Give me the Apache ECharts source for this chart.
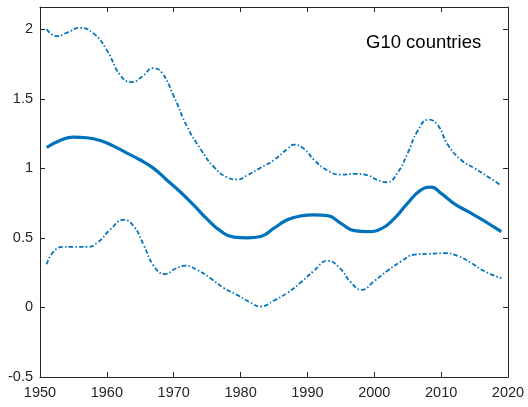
<!DOCTYPE html>
<html>
<head>
<meta charset="utf-8">
<script src="https://cdn.jsdelivr.net/npm/echarts@6/dist/echarts.min.js"></script>
<style>
html,body{margin:0;padding:0;background:#fff;}
#chart{width:528px;height:407px;}
</style>
</head>
<body>
<div id="chart"></div>
<script>
var titleText = "G10 countries";
var xTicks = [1950, 1960, 1970, 1980, 1990, 2000, 2010, 2020];
var yTicks = [-0.5, 0, 0.5, 1, 1.5, 2];

var upperYears = [1951, 1952.5, 1954, 1956, 1958, 1960, 1962, 1963.7, 1965.3, 1966.9, 1968.2, 1970, 1972, 1974, 1976, 1978, 1979.5, 1981, 1983, 1985, 1987, 1988, 1989.5, 1991, 1993, 1995, 1997, 1999, 2000.5, 2001.9, 2003.5, 2005, 2006.5, 2008.1, 2009.5, 2011, 2013, 2015, 2017, 2019];
var upperVals  = [2.0, 1.95, 1.975, 2.01, 1.97, 1.85, 1.67, 1.62, 1.66, 1.72, 1.69, 1.52, 1.30, 1.14, 1.01, 0.935, 0.92, 0.95, 1.005, 1.06, 1.14, 1.17, 1.14, 1.06, 0.985, 0.955, 0.96, 0.95, 0.915, 0.90, 0.97, 1.11, 1.27, 1.35, 1.31, 1.17, 1.06, 1.00, 0.94, 0.875];

var centralYears = [1951, 1953, 1955, 1957, 1959, 1961, 1963, 1965, 1967, 1969, 1971, 1973, 1975, 1977, 1979, 1981, 1983, 1985, 1987, 1989, 1991, 1993, 1995, 1997, 1999, 2001, 2003, 2005, 2007, 2008.5, 2010, 2012, 2014, 2016, 2018, 2019];
var centralVals  = [1.15, 1.20, 1.225, 1.22, 1.20, 1.16, 1.11, 1.06, 1.00, 0.915, 0.83, 0.735, 0.635, 0.55, 0.505, 0.50, 0.51, 0.57, 0.63, 0.658, 0.665, 0.66, 0.605, 0.552, 0.545, 0.565, 0.64, 0.75, 0.845, 0.865, 0.82, 0.745, 0.69, 0.635, 0.575, 0.545];

var lowerYears = [1951, 1952, 1953.5, 1955, 1957, 1958.7, 1960.5, 1962.5, 1964, 1965.5, 1967, 1968.7, 1970.3, 1971.7, 1973.5, 1975.5, 1977.5, 1979.5, 1981.3, 1983, 1985, 1987, 1989, 1991, 1993, 1994.8, 1996.5, 1998.1, 2000, 2002, 2004, 2006, 2008, 2010.5, 2012.5, 2014.5, 2016.5, 2019];
var lowerVals  = [0.31, 0.40, 0.435, 0.435, 0.435, 0.47, 0.56, 0.63, 0.585, 0.45, 0.30, 0.24, 0.28, 0.30, 0.27, 0.21, 0.14, 0.09, 0.04, 0.007, 0.05, 0.105, 0.18, 0.265, 0.335, 0.285, 0.18, 0.127, 0.19, 0.265, 0.33, 0.38, 0.385, 0.39, 0.37, 0.32, 0.26, 0.21];

function pairs(xs, ys){ return xs.map(function(x,i){ return [x, ys[i]]; }); }

var lineColor = '#0072BD';
var axisColor = '#262626';
var fontFam = '"Liberation Sans", Arial, Helvetica, sans-serif';

var chart = echarts.init(document.getElementById('chart'), null, {renderer:'canvas'});

function xAx(pos, showLabel){
  return {
    type:'value', position:pos, min:xTicks[0], max:xTicks[xTicks.length-1], interval:10,
    axisLine:{show:true, onZero:false, lineStyle:{color:axisColor, width:1}},
    axisTick:{show:true, inside:true, length:5, lineStyle:{color:axisColor}},
    axisLabel:{show:showLabel, color:axisColor, fontSize:14.5, fontFamily:fontFam, margin:8,
      formatter:function(v){ return String(Math.round(v)); }},
    splitLine:{show:false}
  };
}
function yAx(pos, showLabel){
  return {
    type:'value', position:pos, min:yTicks[0], max:2.16, interval:0.5,
    axisLine:{show:true, onZero:false, lineStyle:{color:axisColor, width:1}},
    axisTick:{show:true, inside:true, length:5, lineStyle:{color:axisColor}},
    axisLabel:{show:showLabel, color:axisColor, fontSize:14.5, fontFamily:fontFam, margin:7,
      showMaxLabel:false,
      formatter:function(v){ var r = Math.round(v*10)/10; return yTicks.indexOf(r) >= 0 ? String(r) : ''; }},
    splitLine:{show:false}
  };
}

var dashDot = [4.5, 2.2, 1.5, 2.2];

chart.setOption({
  animation:false,
  backgroundColor:'#ffffff',
  grid:{left:40, right:20, top:7, bottom:30, containLabel:false},
  title:{text:titleText, left:366, top:33, padding:0,
    textStyle:{fontSize:18.5, fontWeight:'normal', color:'#000', fontFamily:fontFam}},
  xAxis:[xAx('bottom', true), xAx('top', false)],
  yAxis:[yAx('left', true), yAx('right', false)],
  series:[
    {type:'line', data:pairs(upperYears, upperVals), smooth:0.5, symbol:'none',
      lineStyle:{color:lineColor, width:1.8, type:dashDot}},
    {type:'line', data:pairs(centralYears, centralVals), smooth:0.5, symbol:'none',
      lineStyle:{color:lineColor, width:3.2}},
    {type:'line', data:pairs(lowerYears, lowerVals), smooth:0.5, symbol:'none',
      lineStyle:{color:lineColor, width:1.8, type:dashDot}}
  ]
});
</script>
</body>
</html>
